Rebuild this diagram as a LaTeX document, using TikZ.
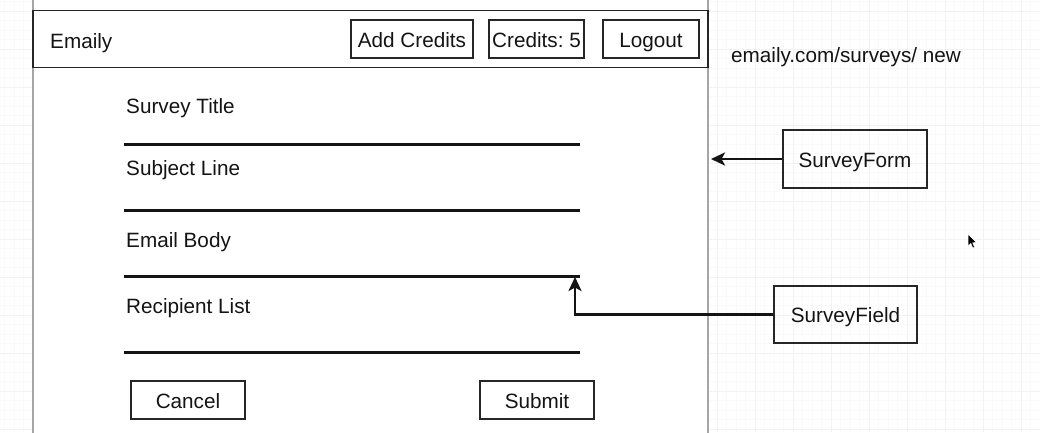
\documentclass[tikz,border=0pt]{standalone}
\usepackage{fontspec}
\setmainfont{Liberation Sans}
\usetikzlibrary{arrows.meta}
\frenchspacing
\begin{document}
\begin{tikzpicture}[x=1pt,y=-1pt,
  every node/.style={font=\fontsize{20.7}{24}\selectfont, text=black!92},
  btn/.style={draw=black!85, line width=1.6pt, inner sep=0pt, text height=16pt, text depth=0pt, minimum height=38pt},
  lbl/.style={anchor=base west, inner sep=0pt},
  field/.style={line width=3pt, black!92},
  conn/.style={line width=2.8pt, black!92, -{Stealth[length=14pt,width=13pt,inset=3.5pt]}},
  minorgrid/.style={line width=0.6pt, black!2},
  majorgrid/.style={line width=0.8pt, black!5}]
\useasboundingbox (0,0) rectangle (1040,432);
\fill[white] (0,0) rectangle (1040,432);
% grid
\foreach \j in {-4,...,107} {\draw[minorgrid] (33+9.5*\j,0) -- (33+9.5*\j,432);}
\foreach \j in {-2,...,44} {\draw[minorgrid] (0,11+9.5*\j) -- (1040,11+9.5*\j);}
\foreach \i in {-1,...,27} {\draw[majorgrid] (33+38*\i,0) -- (33+38*\i,432);}
\foreach \i in {-1,...,11} {\draw[majorgrid] (0,11+38*\i) -- (1040,11+38*\i);}
% browser frame
\fill[white] (33,-2) rectangle (708,434);
\draw[black!35, line width=1.4pt] (33,-2) -- (33,434);
\draw[black!35, line width=1.2pt] (708,-2) -- (708,434);
% header
\node[draw=black!85, line width=1.8pt, minimum width=675pt, minimum height=57pt, inner sep=0pt] (header) at (370.5,39) {};
\node[lbl] (brand) at (50,48) {Emaily};
\node[btn, minimum width=122pt] (add) at (412,39) {Add Credits};
\node[btn, minimum width=95pt] (credits) at (536.5,39) {Credits: 5};
\node[btn, minimum width=96pt] (logout) at (651,39) {Logout};
\node[lbl] (url) at (731,62) {emaily.com/surveys/ new};
% form
\node[lbl] (title) at (126,113) {Survey Title};
\node[lbl] (subject) at (126,175) {Subject Line};
\node[lbl] (body) at (126,247) {Email Body};
\node[lbl] (recip) at (126,313) {Recipient List};
\draw[field] (124,144) -- (580,144);
\draw[field] (124,210) -- (580,210);
\draw[field] (124,276) -- (580,276);
\draw[field] (124,352) -- (580,352);
\node[btn, minimum width=114pt] (cancel) at (188,400) {Cancel};
\node[btn, minimum width=114pt] (submit) at (537,400) {Submit};
% components
\node[btn, minimum width=144pt, minimum height=58pt] (sform) at (855,159) {SurveyForm};
\node[btn, minimum width=143pt, minimum height=57pt] (sfield) at (845.5,314.5) {SurveyField};
\coordinate (formtip) at (711,159);
\coordinate (fieldtip) at (575,277);
\draw[conn] (sform.west) -- (formtip);
\draw[conn] (sfield.west) -| (fieldtip);
% mouse cursor
\filldraw[fill=black, draw=white, line width=0.5pt] (968,234) -- (968,246) -- (970.8,243.4) -- (972.8,248) -- (974.6,247.2) -- (972.6,242.8) -- (976.5,242.6) -- cycle;
\end{tikzpicture}
\end{document}
